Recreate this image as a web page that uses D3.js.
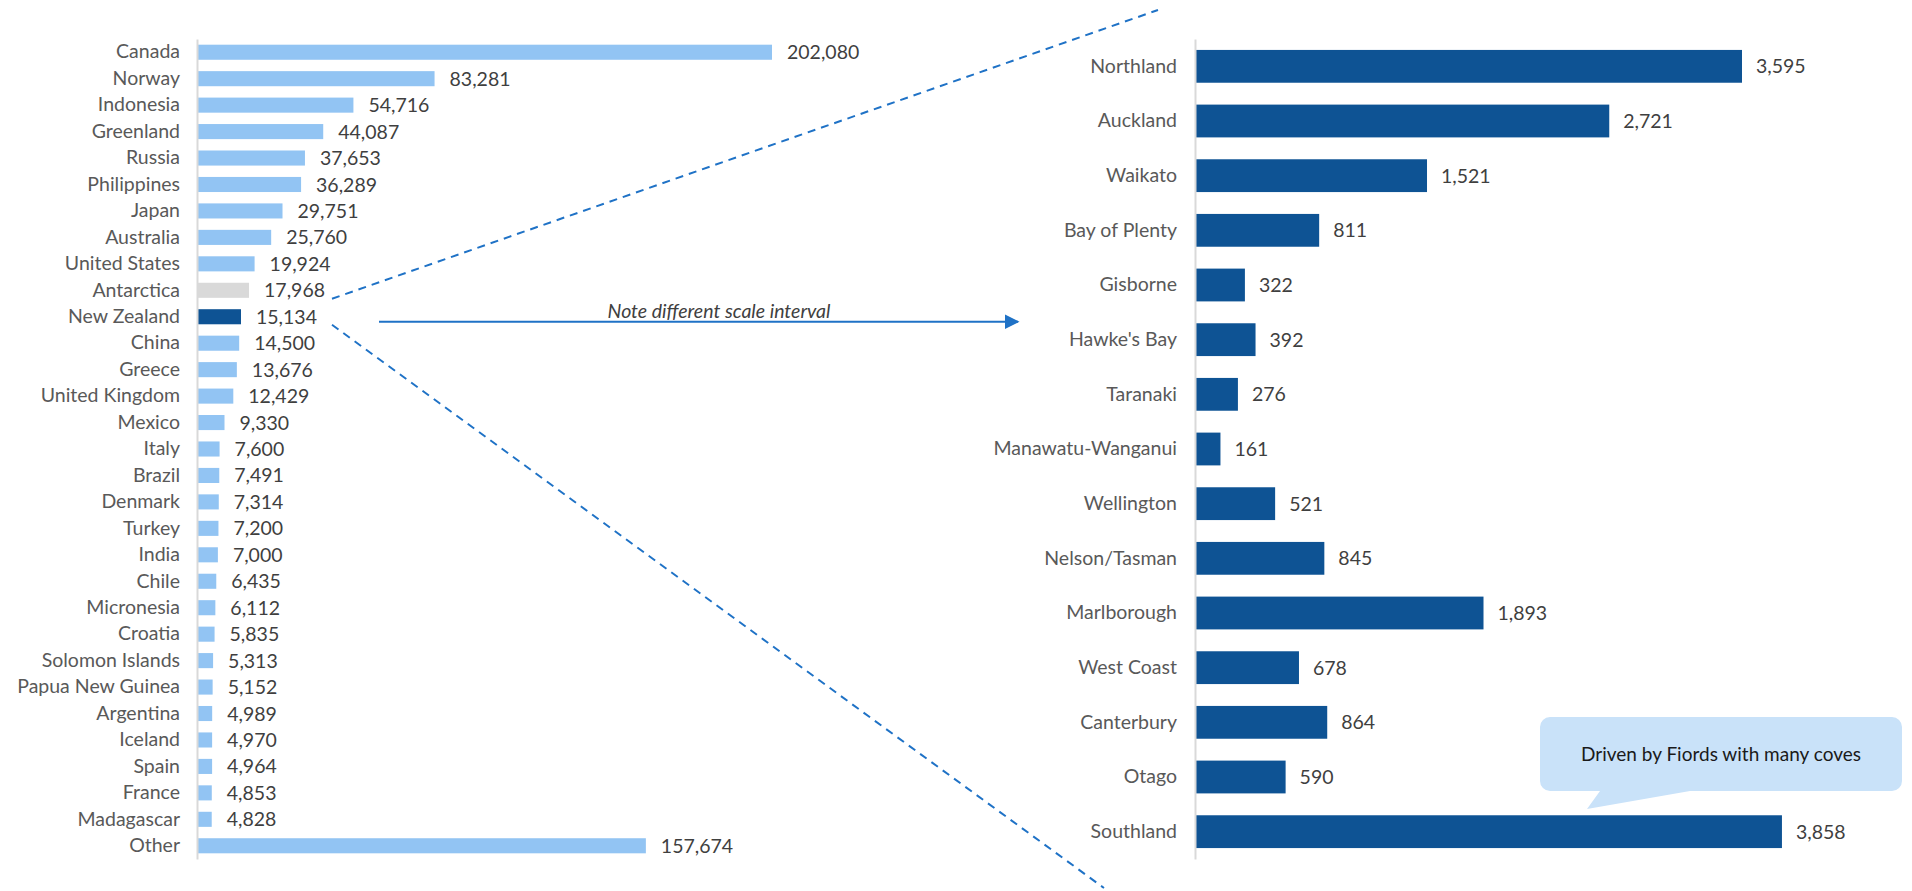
<!DOCTYPE html>
<html>
<head>
<meta charset="utf-8">
<script src="https://cdn.jsdelivr.net/npm/d3@7/dist/d3.min.js"></script>
<style>
  html, body { margin: 0; padding: 0; background: #fff; }
  svg { display: block; }
</style>
</head>
<body>
<svg id="chart" width="1912" height="891"></svg>
<script>
// ---- Data ----
const countries = ["Canada","Norway","Indonesia","Greenland","Russia","Philippines","Japan","Australia","United States","Antarctica","New Zealand","China","Greece","United Kingdom","Mexico","Italy","Brazil","Denmark","Turkey","India","Chile","Micronesia","Croatia","Solomon Islands","Papua New Guinea","Argentina","Iceland","Spain","France","Madagascar","Other"];
const coastlineKm = [202080,83281,54716,44087,37653,36289,29751,25760,19924,17968,15134,14500,13676,12429,9330,7600,7491,7314,7200,7000,6435,6112,5835,5313,5152,4989,4970,4964,4853,4828,157674];

const regions = ["Northland","Auckland","Waikato","Bay of Plenty","Gisborne","Hawke's Bay","Taranaki","Manawatu-Wanganui","Wellington","Nelson/Tasman","Marlborough","West Coast","Canterbury","Otago","Southland"];
const regionKm = [3595,2721,1521,811,322,392,276,161,521,845,1893,678,864,590,3858];

const noteText = "Note different scale interval";
const calloutText = "Driven by Fiords with many coves";

// ---- Styles ----
const FONT = "Lato, 'Open Sans', sans-serif";
const LIGHT = "#92C4F3", DARK = "#0E5394", GREY = "#D9D9D9", LINE = "#1F72C6";
const LABEL_COL = "#595959", VALUE_COL = "#3F3F3F";

const svg = d3.select("#chart");
const fmt = d3.format(",");

// ---- Left chart ----
const leftData = countries.map((c, i) => ({ name: c, value: coastlineKm[i] }));
const xL = d3.scaleLinear().domain([0, 202080]).range([197, 771]);
const yL = d3.scaleBand().domain(countries).range([39, 859]).paddingInner(0.43).paddingOuter(0.215);

const gL = svg.append("g");
gL.selectAll("rect").data(leftData).join("rect")
  .attr("x", xL(0) + 1)
  .attr("y", d => yL(d.name))
  .attr("width", d => xL(d.value) - xL(0))
  .attr("height", yL.bandwidth())
  .attr("fill", d => d.name === "New Zealand" ? DARK : (d.name === "Antarctica" ? GREY : LIGHT));

gL.selectAll("text.val").data(leftData).join("text")
  .attr("class", "val")
  .attr("x", d => xL(d.value) + 16)
  .attr("y", d => yL(d.name) + yL.bandwidth() / 2)
  .attr("dy", "0.36em")
  .attr("font-family", FONT).attr("font-size", 19.5).attr("fill", VALUE_COL)
  .text(d => fmt(d.value));

const axL = svg.append("g").attr("transform", `translate(${xL(0)},0)`)
  .call(d3.axisLeft(yL).tickSize(0).tickSizeOuter(0).tickPadding(17));
axL.select(".domain").attr("stroke", GREY).attr("stroke-width", 2);
axL.selectAll("text").attr("font-family", FONT).attr("font-size", 19.5).attr("fill", LABEL_COL);

// ---- Right chart ----
const rightData = regions.map((r, i) => ({ name: r, value: regionKm[i] }));
const xR = d3.scaleLinear().domain([0, 3595]).range([1195, 1741]);
const yR = d3.scaleBand().domain(regions).range([39, 859]).paddingInner(0.4).paddingOuter(0.2);

const gR = svg.append("g");
gR.selectAll("rect").data(rightData).join("rect")
  .attr("x", xR(0) + 1)
  .attr("y", d => yR(d.name))
  .attr("width", d => xR(d.value) - xR(0))
  .attr("height", yR.bandwidth())
  .attr("fill", DARK);

gR.selectAll("text.val").data(rightData).join("text")
  .attr("class", "val")
  .attr("x", d => xR(d.value) + 15)
  .attr("y", d => yR(d.name) + yR.bandwidth() / 2)
  .attr("dy", "0.36em")
  .attr("font-family", FONT).attr("font-size", 19.5).attr("fill", VALUE_COL)
  .text(d => fmt(d.value));

const axR = svg.append("g").attr("transform", `translate(${xR(0)},0)`)
  .call(d3.axisLeft(yR).tickSize(0).tickSizeOuter(0).tickPadding(18));
axR.select(".domain").attr("stroke", GREY).attr("stroke-width", 2);
axR.selectAll("text").attr("font-family", FONT).attr("font-size", 19.5).attr("fill", LABEL_COL);

// ---- Annotations ----
const nzY = yL("New Zealand") + yL.bandwidth() / 2;
const anno = svg.append("g");
anno.append("line")
  .attr("x1", 332).attr("y1", nzY - 18).attr("x2", 1158).attr("y2", 10)
  .attr("stroke", LINE).attr("stroke-width", 2).attr("stroke-dasharray", "8,6");
anno.append("line")
  .attr("x1", 332).attr("y1", nzY + 8).attr("x2", 1104).attr("y2", 888)
  .attr("stroke", LINE).attr("stroke-width", 2).attr("stroke-dasharray", "8,6");

svg.append("defs").append("marker")
  .attr("id", "arrowhead").attr("viewBox", "0 0 10 10")
  .attr("refX", 9).attr("refY", 5)
  .attr("markerWidth", 15).attr("markerHeight", 15)
  .attr("markerUnits", "userSpaceOnUse")
  .attr("orient", "auto")
  .append("path").attr("d", "M0,0 L10,5 L0,10 Z").attr("fill", LINE);

anno.append("line")
  .attr("x1", 379).attr("y1", nzY + 5).attr("x2", 1018).attr("y2", nzY + 5)
  .attr("stroke", LINE).attr("stroke-width", 2)
  .attr("marker-end", "url(#arrowhead)");

anno.append("text")
  .attr("x", 719).attr("y", nzY + 1)
  .attr("text-anchor", "middle")
  .attr("font-family", FONT).attr("font-size", 19.5).attr("font-style", "italic")
  .attr("fill", "#404040")
  .text(noteText);

// Callout bubble
const bx0 = 1540, by0 = 717, bx1 = 1902, by1 = 791, r = 10;
const tip = [1587, 809], tb0 = 1600, tb1 = 1690;
const bubble = d3.path();
bubble.moveTo(bx0 + r, by0);
bubble.lineTo(bx1 - r, by0);
bubble.arcTo(bx1, by0, bx1, by0 + r, r);
bubble.lineTo(bx1, by1 - r);
bubble.arcTo(bx1, by1, bx1 - r, by1, r);
bubble.lineTo(tb1, by1);
bubble.lineTo(tip[0], tip[1]);
bubble.lineTo(tb0, by1);
bubble.lineTo(bx0 + r, by1);
bubble.arcTo(bx0, by1, bx0, by1 - r, r);
bubble.lineTo(bx0, by0 + r);
bubble.arcTo(bx0, by0, bx0 + r, by0, r);
bubble.closePath();
anno.append("path").attr("d", bubble.toString()).attr("fill", "#C9E2F9");
anno.append("text")
  .attr("x", (bx0 + bx1) / 2).attr("y", (by0 + by1) / 2)
  .attr("dy", "0.36em").attr("text-anchor", "middle")
  .attr("font-family", FONT).attr("font-size", 19).attr("fill", "#1a1a1a")
  .text(calloutText);
</script>
</body>
</html>
